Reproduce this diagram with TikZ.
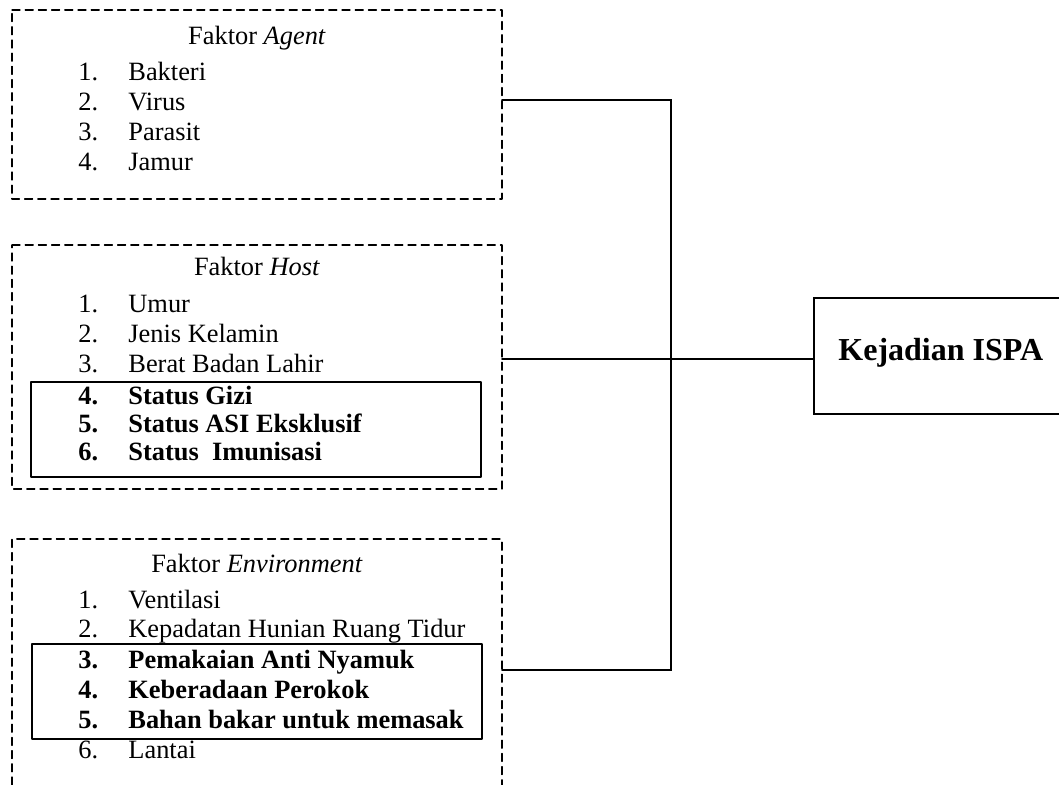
\documentclass[tikz,border=0pt]{standalone}
\usepackage{fontspec}
\setmainfont{Liberation Serif}
\usepackage{tikz}
\usepackage{tkz-euclide}

\begin{document}
\begin{tikzpicture}[x = 0.5pt, y = -0.5pt, font = \fontsize{13.2}{15}\selectfont,
        framebox/.style = {line width = 0.6pt, dash pattern = on 4pt off 2.6pt},
        solidbox/.style = {line width = 0.8pt},
        link/.style = {line width = 0.8pt},
        itemtext/.style = {anchor = base west, inner sep = 0pt},
        boldtext/.style = {itemtext, font = \fontsize{13.2}{15}\selectfont\bfseries},
        header/.style = {anchor = base, inner sep = 0pt}]
            \useasboundingbox (0,0) rectangle (1059,785);
            \tkzDefPoints{12/10/A1, 502/10/A2, 502/199/A3, 12/199/A4,
                          12/245/H1, 502/245/H2, 502/489/H3, 12/489/H4,
                          12/785/E0, 12/539/E1, 502/539/E2, 502/785/E3,
                          31/382/G1, 481/382/G2, 481/477/G3, 31/477/G4,
                          32/644/L1, 482/644/L2, 482/739/L3, 32/739/L4,
                          1059/298/K0, 814/298/K1, 814/414/K2, 1059/414/K3}
            \tkzDefPoints{502/100/P1, 671/100/P2, 671/670/P3, 502/670/P4,
                          502/359/Q1, 814/359/Q2}
            % dashed factor boxes
            \tkzDrawPolygon[framebox](A1,A2,A3,A4)
            \tkzDrawPolygon[framebox](H1,H2,H3,H4)
            \tkzDrawPolySeg[framebox](E0,E1,E2,E3)
            % boxes round the studied variables
            \tkzDrawPolygon[solidbox](G1,G2,G3,G4)
            \tkzDrawPolygon[solidbox](L1,L2,L3,L4)
            \tkzDrawPolySeg[line width = 1.2pt](K0,K1,K2,K3)
            % connectors
            \tkzDrawPolySeg[link](P1,P2,P3,P4)
            \tkzDrawSegment[link](Q1,Q2)
            % texts
            \node[header] (agent) at (257,45) {Faktor \textit{Agent}};
            \node[header] (host) at (257,276) {Faktor \textit{Host}};
            \node[header] (env) at (257,572) {Faktor \textit{Environment}};
            \node[itemtext, font = \bfseries\fontsize{16}{18}\selectfont] (ispa) at (838,361) {Kejadian ISPA};
            \foreach \t/\y [count = \i] in {Bakteri/81, Virus/111, Parasit/141, Jamur/171} {
                \node[itemtext] (agn\i) at (78,\y) {\i.};
                \node[itemtext] (ag\i) at (128,\y) {\t};
            }
            \foreach \t/\y [count = \i] in {Umur/313, Jenis Kelamin/343, Berat Badan Lahir/373} {
                \node[itemtext] (hsn\i) at (78,\y) {\i.};
                \node[itemtext] (hs\i) at (128,\y) {\t};
            }
            \foreach \t/\y [count = \i from 4] in {Status Gizi/405, Status ASI Eksklusif/433, Status~ Imunisasi/461} {
                \node[boldtext] (hsn\i) at (78,\y) {\i.};
                \node[boldtext] (hs\i) at (128,\y) {\t};
            }
            \foreach \t/\y [count = \i] in {Ventilasi/608, Kepadatan Hunian Ruang Tidur/637} {
                \node[itemtext] (evn\i) at (78,\y) {\i.};
                \node[itemtext] (ev\i) at (128,\y) {\t};
            }
            \foreach \t/\y [count = \i from 3] in {Pemakaian Anti Nyamuk/668, Keberadaan Perokok/698, Bahan bakar untuk memasak/728} {
                \node[boldtext] (evn\i) at (78,\y) {\i.};
                \node[boldtext] (ev\i) at (128,\y) {\t};
            }
            \node[itemtext] (evn6) at (78,758) {6.};
            \node[itemtext] (ev6) at (128,758) {Lantai};
        \end{tikzpicture}
\end{document}
